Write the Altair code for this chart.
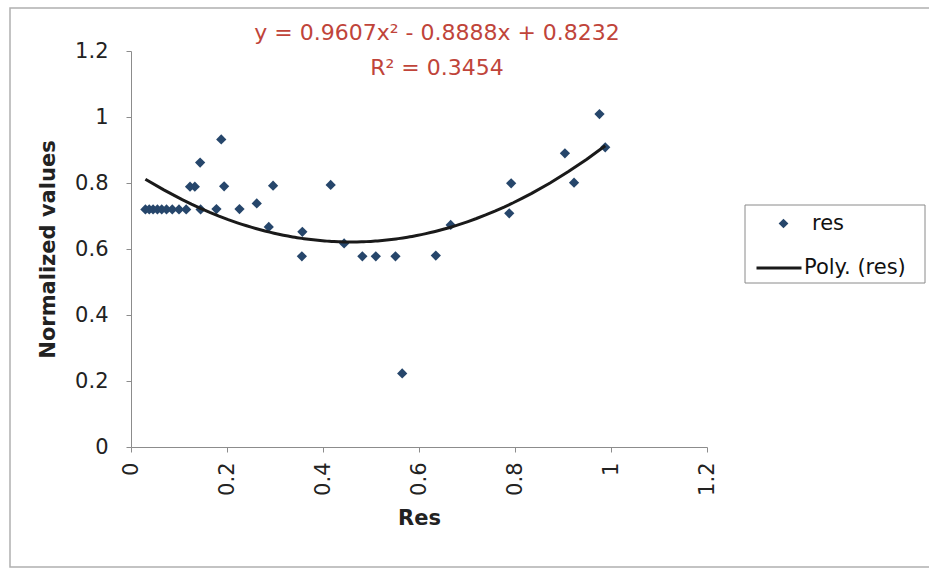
import altair as alt
import pandas as pd

# ---- data ----
res_x = [0.030, 0.038, 0.046, 0.055, 0.064, 0.074, 0.086, 0.100, 0.115, 0.145,
         0.123, 0.133, 0.144, 0.188, 0.194, 0.178, 0.226, 0.262, 0.287, 0.296,
         0.357, 0.356, 0.416, 0.444, 0.482, 0.510, 0.551, 0.565, 0.635, 0.666,
         0.788, 0.792, 0.904, 0.923, 0.976, 0.988]
res_y = [0.720, 0.720, 0.720, 0.720, 0.720, 0.720, 0.720, 0.720, 0.720, 0.720,
         0.789, 0.789, 0.862, 0.932, 0.790, 0.721, 0.721, 0.738, 0.667, 0.792,
         0.652, 0.578, 0.794, 0.617, 0.578, 0.578, 0.578, 0.223, 0.580, 0.673,
         0.708, 0.799, 0.890, 0.801, 1.009, 0.908]

x_ticks = [0, 0.2, 0.4, 0.6, 0.8, 1.0, 1.2]
y_ticks = [0, 0.2, 0.4, 0.6, 0.8, 1.0, 1.2]

series_points = "res"
series_trend = "Poly. (res)"
equation_text = "y = 0.9607x² - 0.8888x + 0.8232"
r2_text = "R² = 0.3454"
x_title = "Res"
y_title = "Normalized values"

FONT = "DejaVu Sans"
W, H = 576, 396
PAD_L, PAD_T = 131, 51

df = pd.DataFrame({"x": res_x, "y": res_y, "series": series_points})

xscale = alt.Scale(domain=[0, 1.2], nice=False, zero=False)
yscale = alt.Scale(domain=[0, 1.2], nice=False, zero=False)

x_axis = alt.Axis(values=x_ticks, format="~g", title=x_title, labelAngle=270,
                  labelPadding=10, titlePadding=12, grid=False)
y_axis = alt.Axis(values=y_ticks, format="~g", title=y_title,
                  labelPadding=18, titlePadding=16, grid=False)

one = pd.DataFrame({"k": [0]})

frame = alt.Chart(one).mark_rect(fillOpacity=0, stroke="#b0b0b0", strokeWidth=1.5).encode(
    x=alt.value(10 - PAD_L), x2=alt.value(945 - PAD_L),
    y=alt.value(8 - PAD_T), y2=alt.value(567 - PAD_T),
)

legend_box = alt.Chart(one).mark_rect(fill="white", stroke="#8a8a8a", strokeWidth=1).encode(
    x=alt.value(745 - PAD_L), x2=alt.value(925 - PAD_L),
    y=alt.value(205 - PAD_T), y2=alt.value(283 - PAD_T),
)

points = alt.Chart(df).mark_point(shape="diamond", filled=True, size=105, opacity=1,
                                  color="#26466b").encode(
    x=alt.X("x:Q", scale=xscale, axis=x_axis),
    y=alt.Y("y:Q", scale=yscale, axis=y_axis),
    shape=alt.Shape("series:N",
                    scale=alt.Scale(domain=[series_points], range=["diamond"]),
                    legend=alt.Legend(title=None, orient="none",
                                      legendX=773 - PAD_L, legendY=213 - PAD_T,
                                      padding=0, labelOffset=18, symbolSize=95,
                                      symbolFillColor="#111111", symbolStrokeWidth=0,
                                      labelFont=FONT, labelFontSize=21,
                                      labelColor="#111111")),
)

trend = alt.Chart(df).transform_regression(
    "x", "y", method="poly", order=2, extent=[min(res_x), max(res_x)]
).transform_calculate(series=f"'{series_trend}'").mark_line(strokeWidth=3).encode(
    x=alt.X("x:Q", scale=xscale),
    y=alt.Y("y:Q", scale=yscale),
    color=alt.Color("series:N",
                    scale=alt.Scale(domain=[series_trend], range=["#1a1a1a"]),
                    legend=alt.Legend(title=None, orient="none",
                                      legendX=755 - PAD_L, legendY=244 - PAD_T,
                                      padding=0, labelOffset=1, symbolSize=2025,
                                      symbolStrokeWidth=3, symbolType="stroke",
                                      labelFont=FONT, labelFontSize=21,
                                      labelColor="#111111")),
)

eq = alt.Chart(pd.DataFrame({"t": [equation_text]})).mark_text(
    font=FONT, fontSize=22, color="#c0443a", align="center", baseline="middle"
).encode(text="t:N", x=alt.value(437 - PAD_L), y=alt.value(33 - PAD_T))

r2 = alt.Chart(pd.DataFrame({"t": [r2_text]})).mark_text(
    font=FONT, fontSize=22, color="#c0443a", align="center", baseline="middle"
).encode(text="t:N", x=alt.value(437 - PAD_L), y=alt.value(68 - PAD_T))

chart = alt.layer(frame, legend_box, points, trend, eq, r2).resolve_legend(
    shape="independent", color="independent"
).properties(
    width=W, height=H,
    autosize=alt.AutoSizeParams(type="none"),
    padding={"left": PAD_L, "top": PAD_T, "right": 929 - PAD_L - W, "bottom": 571 - PAD_T - H},
    background="white",
).configure_view(strokeWidth=0).configure_axis(
    domainColor="#8c8c8c", tickColor="#8c8c8c", tickSize=5,
    labelFont=FONT, labelFontSize=21, labelColor="#222222",
    titleFont=FONT, titleFontSize=21, titleFontWeight="bold", titleColor="#222222",
)

chart.save("out.html", embed_options={"renderer": "svg", "actions": False})
